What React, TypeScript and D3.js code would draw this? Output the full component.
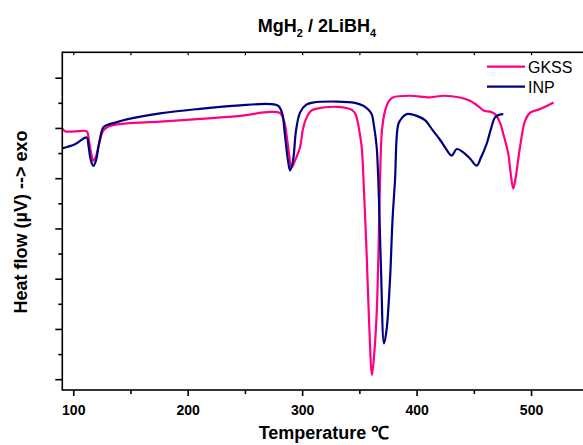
import React from "react";
import * as d3 from "d3";

const W = 583;
const H = 445;

const title = "MgH";
const xLabel = "Temperature ℃";
const yLabel = "Heat flow (µV) --> exo";
const seriesNames = ["GKSS", "INP"];
const seriesColors = ["#FF0080", "#000080"];
const xTicks = [100, 200, 300, 400, 500];
const xMinorTicks = [150, 250, 350, 450, 550];
const yTicks = [0, 1, 2, 3, 4, 5, 6, 7, 8, 9, 10, 11, 12];

const gkssT = [90, 92.4, 101.1, 111.3, 113.3, 115.1, 117.1, 119.4, 122.1, 125.8, 129.9, 134.6, 146.3, 175.4, 210.3, 245.3, 271.5, 280.2, 283.7, 287.2, 290.4, 293.3, 297.7, 300.3, 303.5, 307.3, 312.3, 329.8, 341.4, 344.9, 347.2, 349.2, 351.6, 353.6, 355.8, 358.0, 360.6, 362.8, 364.7, 366.3, 367.6, 369.3, 372.0, 375.5, 379.2, 393.8, 411.3, 422.9, 437.5, 446.2, 454.9, 458.4, 463.7, 468.0, 472.4, 475.3, 479.7, 482.0, 484.1, 486.4, 489.9, 494.4, 498.8, 507.5, 519.2];
const gkssV = [9.99, 9.89, 9.88, 9.88, 9.51, 9.04, 8.72, 8.88, 9.39, 9.91, 10.07, 10.13, 10.2, 10.27, 10.38, 10.5, 10.66, 10.61, 10.31, 9.31, 8.45, 8.72, 9.25, 9.99, 10.44, 10.70, 10.79, 10.86, 10.77, 10.66, 10.44, 9.99, 9.25, 7.53, 5.15, 2.37, 0.19, 1.18, 2.65, 5.15, 7.92, 9.91, 10.70, 11.10, 11.24, 11.30, 11.24, 11.30, 11.23, 11.10, 10.83, 10.70, 10.67, 10.57, 10.23, 9.78, 8.98, 8.12, 7.60, 8.12, 9.25, 10.31, 10.63, 10.77, 11.03];

const inpT = [90, 101.1, 111.3, 112.9, 114.6, 117.1, 119.4, 122.1, 125.8, 129.9, 134.6, 146.3, 175.4, 210.3, 245.3, 271.5, 278.7, 282.0, 284.6, 287.2, 289.0, 291.6, 294.2, 297.7, 302.9, 309.0, 329.8, 345.7, 353.0, 357.1, 360.3, 362.3, 364.7, 366.7, 368.5, 371.1, 373.3, 376.3, 378.5, 380.7, 383.6, 386.8, 390.9, 399.7, 406.9, 413.9, 420.0, 424.4, 430.2, 434.6, 440.4, 446.2, 452.1, 455.8, 460.8, 464.6, 468.1, 471.6, 475.3];
const inpV = [9.21, 9.37, 9.64, 9.31, 8.80, 8.51, 8.72, 9.39, 10.04, 10.15, 10.21, 10.36, 10.6, 10.78, 10.92, 10.97, 10.90, 10.62, 9.71, 8.72, 8.33, 8.72, 9.91, 10.63, 10.94, 11.03, 11.07, 11.02, 10.90, 10.76, 10.57, 10.11, 9.25, 7.13, 4.35, 1.44, 1.97, 3.96, 6.34, 7.93, 10.17, 10.42, 10.57, 10.50, 10.33, 9.91, 9.55, 9.25, 8.92, 9.18, 9.05, 8.80, 8.52, 8.84, 9.39, 9.99, 10.44, 10.54, 10.57];

const left = 62.3;
const top = 52.3;
const bottom = 390;
const pxPerDeg = 1.1445;
const xMin = 90;
const xMax = 570;

export default function App() {
  const x = d3.scaleLinear().domain([xMin, xMax]).range([left, left + (xMax - xMin) * pxPerDeg]);
  const y = d3.scaleLinear().domain([-0.41, 13.03]).range([bottom, top]);
  const line = d3
    .line<[number, number]>()
    .x((d) => x(d[0]))
    .y((d) => y(d[1]))
    .curve(d3.curveCatmullRom.alpha(0.5));
  const series = [
    gkssT.map((t, i) => [t, gkssV[i]] as [number, number]),
    inpT.map((t, i) => [t, inpV[i]] as [number, number]),
  ];
  const right = x(xMax);
  const font = "Arial, 'Liberation Sans', Helvetica, sans-serif";
  return (
    <svg width={W} height={H} style={{ position: "absolute", left: 0, top: 0, background: "#fff" }} fontFamily={font}>
      <defs>
        <clipPath id="plot">
          <rect x={left} y={top} width={right - left} height={bottom - top} />
        </clipPath>
      </defs>
      <text x={317} y={31.5} textAnchor="middle" fontWeight="bold" fontSize={18}>
        {title}
        <tspan fontSize={11} dy={5}>2</tspan>
        <tspan dy={-5}> / 2LiBH</tspan>
        <tspan fontSize={11} dy={5}>4</tspan>
      </text>
      <g clipPath="url(#plot)">
        {series.map((s, i) => (
          <path key={i} d={line(s) || ""} fill="none" stroke={seriesColors[i]} strokeWidth={2.2} strokeLinejoin="round" />
        ))}
      </g>
      <rect x={left} y={top} width={right - left} height={bottom - top} fill="none" stroke="#000" strokeWidth={1.6} />
      {xTicks.map((t) => (
        <g key={t}>
          <line x1={x(t)} x2={x(t)} y1={bottom} y2={bottom + 6} stroke="#000" strokeWidth={1.6} />
          <line x1={x(t)} x2={x(t)} y1={top} y2={top + 3} stroke="#000" strokeWidth={1.2} />
          <text x={x(t)} y={415} textAnchor="middle" fontWeight="bold" fontSize={14}>
            {t}
          </text>
        </g>
      ))}
      {xMinorTicks.map((t) => (
        <g key={t}>
          <line x1={x(t)} x2={x(t)} y1={bottom} y2={bottom + 4} stroke="#000" strokeWidth={1.6} />
          <line x1={x(t)} x2={x(t)} y1={top} y2={top + 3} stroke="#000" strokeWidth={1.2} />
        </g>
      ))}
      {yTicks.map((v) => (
        <line key={v} x1={left} x2={left - (v % 2 === 0 ? 7 : 4)} y1={y(v)} y2={y(v)} stroke="#000" strokeWidth={1.6} />
      ))}
      <text x={324} y={439} textAnchor="middle" fontWeight="bold" fontSize={18}>
        {xLabel}
      </text>
      <text transform={`translate(27, 222) rotate(-90)`} textAnchor="middle" fontWeight="bold" fontSize={18}>
        {yLabel}
      </text>
      {seriesNames.map((n, i) => (
        <g key={n}>
          <line x1={487} x2={525} y1={66.7 + i * 20} y2={66.7 + i * 20} stroke={seriesColors[i]} strokeWidth={2.2} />
          <text x={528} y={72.5 + i * 20} fontSize={16}>
            {n}
          </text>
        </g>
      ))}
    </svg>
  );
}
